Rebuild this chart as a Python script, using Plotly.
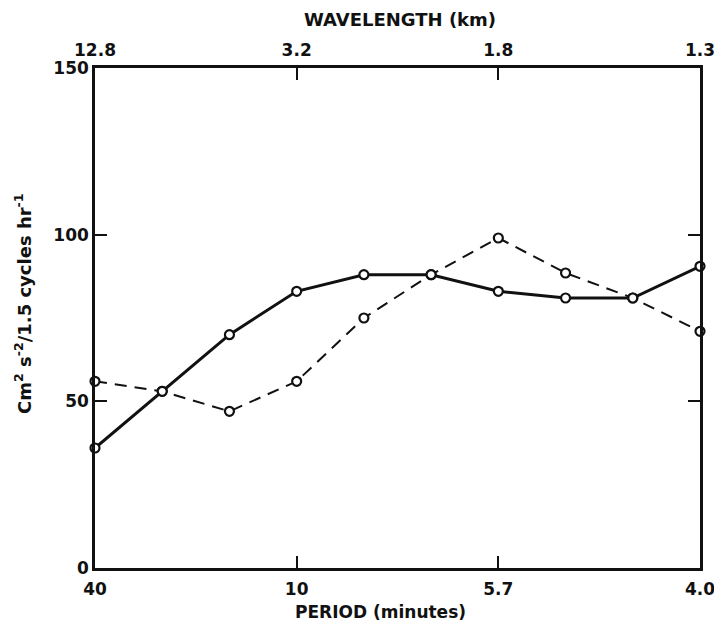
import plotly.graph_objects as go

# Frequency bins (cycles/hr)
freq = [1.5, 3.0, 4.5, 6.0, 7.5, 9.0, 10.5, 12.0, 13.5, 15.0]
solid_vals = [36, 53, 70, 83, 88, 88, 83, 81, 81, 90.5]
dashed_vals = [56, 53, 47, 56, 75, 88, 99, 88.5, 81, 71]

tick_pos = [1.5, 6.0, 10.5, 15.0]
period_labels = ["40", "10", "5.7", "4.0"]
wavelength_labels = ["12.8", "3.2", "1.8", "1.3"]
y_ticks = [0, 50, 100, 150]

FONT = "DejaVu Sans"
INK = "#111111"
W, H = 714, 628
ML, MR, MT, MB = 95, 14, 68, 60

fig = go.Figure()
fig.add_trace(go.Scatter(
    x=freq, y=dashed_vals, mode="lines+markers",
    line=dict(color=INK, width=2, dash="12px,8px"),
    marker=dict(symbol="circle", size=9, color="white", line=dict(color=INK, width=2.2)),
    showlegend=False, cliponaxis=False))
fig.add_trace(go.Scatter(
    x=freq, y=solid_vals, mode="lines+markers",
    line=dict(color=INK, width=3),
    marker=dict(symbol="circle", size=9, color="white", line=dict(color=INK, width=2.2)),
    showlegend=False, cliponaxis=False))
# invisible trace to activate top axis
fig.add_trace(go.Scatter(x=[freq[0]], y=[0], xaxis="x2", mode="markers",
                         marker=dict(opacity=0), showlegend=False, hoverinfo="skip"))

tickfont = dict(family=FONT, size=17, color=INK, weight="bold")
titlefont = dict(family=FONT, size=17, color=INK, weight="bold")

plot_h = H - MT - MB
plot_w = W - ML - MR

fig.update_layout(
    width=W, height=H,
    margin=dict(l=ML, r=MR, t=MT, b=MB, autoexpand=False),
    paper_bgcolor="white", plot_bgcolor="white",
    xaxis=dict(range=[1.5, 15], tickvals=tick_pos, ticktext=period_labels,
               ticks="inside", ticklen=12, tickwidth=2, tickcolor=INK,
               showline=True, linecolor=INK, linewidth=2.5, showgrid=False,
               zeroline=False, tickfont=tickfont, ticklabeloverflow="allow",
               ticklabelstandoff=4),
    xaxis2=dict(range=[1.5, 15], tickvals=tick_pos, ticktext=wavelength_labels,
                overlaying="x", side="top", anchor="y",
                ticks="inside", ticklen=12, tickwidth=2, tickcolor=INK,
                showline=True, linecolor=INK, linewidth=2.5, showgrid=False,
                zeroline=False, tickfont=tickfont, ticklabelstandoff=2,
                ticklabeloverflow="allow"),
    yaxis=dict(range=[0, 150], tickvals=y_ticks, ticktext=[str(v) for v in y_ticks],
               ticks="inside", ticklen=12, tickwidth=2, tickcolor=INK,
               showline=True, linecolor=INK, linewidth=2.5, mirror="ticks",
               showgrid=False, zeroline=False, tickfont=tickfont),
    annotations=[
        dict(text="WAVELENGTH (km)", xref="paper", yref="paper",
             x=(400 - ML) / plot_w, y=1 + (MT - 20) / plot_h,
             showarrow=False, font=dict(family=FONT, size=18, color=INK, weight="bold"),
             xanchor="center", yanchor="middle"),
        dict(text="PERIOD (minutes)", xref="paper", yref="paper",
             x=(380 - ML) / plot_w, y=-(612 - (H - MB)) / plot_h,
             showarrow=False, font=titlefont,
             xanchor="center", yanchor="middle"),
        dict(text="Cm<sup>2</sup> s<sup>-2</sup>/1.5 cycles hr<sup>-1</sup>",
             xref="paper", yref="paper",
             x=-(ML - 23) / plot_w, y=1 - (304 - MT) / plot_h, textangle=-90,
             showarrow=False, font=dict(family=FONT, size=18, color=INK, weight="bold"),
             xanchor="center", yanchor="middle"),
    ],
)

fig.write_html("out.html", config={"displayModeBar": False},
               post_script="document.body.style.margin='0px';")
